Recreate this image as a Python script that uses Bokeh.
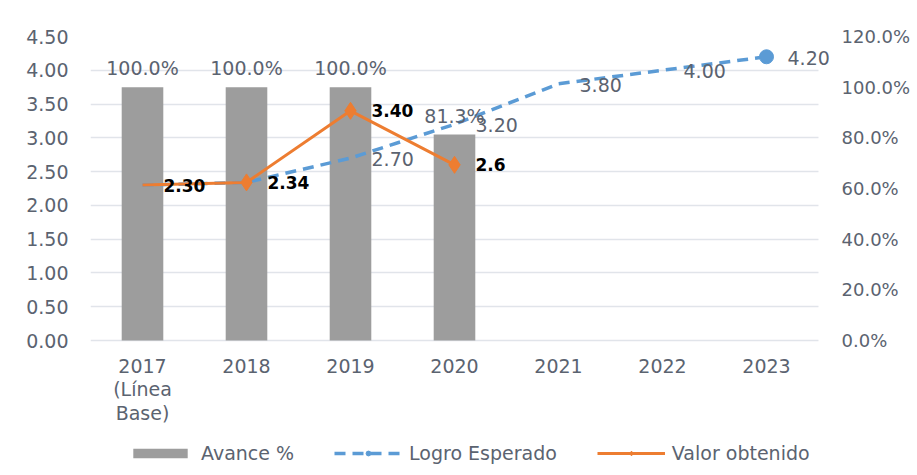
from bokeh.plotting import figure
from bokeh.models import (ColumnDataSource, LinearAxis, Range1d, NumeralTickFormatter,
                          FixedTicker, LabelSet, Legend, LegendItem, Grid)
from bokeh.core.properties import value
from bokeh.embed import file_html
from bokeh.resources import INLINE

categories = ["2017\n(Línea\nBase)", "2018", "2019", "2020", "2021", "2022", "2023"]
avance = [1.0, 1.0, 1.0, 0.813]
avance_labels = ["100.0%", "100.0%", "100.0%", "81.3%"]
logro = [2.30, 2.34, 2.70, 3.20, 3.80, 4.00, 4.20]
logro_labels = ["", "", "2.70", "3.20", "3.80", "4.00", "4.20"]
valor = [2.30, 2.34, 3.40, 2.6]
valor_labels = ["2.30", "2.34", "3.40", "2.6"]
left_ticks = [0.0, 0.5, 1.0, 1.5, 2.0, 2.5, 3.0, 3.5, 4.0, 4.5]
right_ticks = [0.0, 0.2, 0.4, 0.6, 0.8, 1.0, 1.2]

FONT = "DejaVu Sans"
TXT = "#5b6370"
BLUE = "#5B9BD5"
ORANGE = "#ED7D31"

xs = list(range(len(categories)))
n = len(categories)
extra = 14 / 104.0          # room so the last data label is not clipped
Y_TOP = 4.5
PCT_TOP = 1.2
PX_PER_UNIT = 304 / Y_TOP    # plot area 304 px tall for 0..4.5
BOTTOM_PX = 130              # space below zero for category labels and legend
y_lo = -BOTTOM_PX / PX_PER_UNIT

p = figure(frame_width=742, frame_height=304 + BOTTOM_PX,
           x_range=Range1d(-0.5, n - 0.5 + extra), y_range=Range1d(y_lo, Y_TOP),
           output_backend="svg", toolbar_location=None, x_axis_location=None,
           min_border_left=90, min_border_right=80, min_border_top=36, min_border_bottom=0)
p.extra_y_ranges = {"pct": Range1d(y_lo * PCT_TOP / Y_TOP, PCT_TOP)}
p.outline_line_color = None
p.background_fill_color = "white"

# axes
p.yaxis.ticker = FixedTicker(ticks=left_ticks)
p.yaxis.formatter = NumeralTickFormatter(format="0.00")
ra = LinearAxis(y_range_name="pct", ticker=FixedTicker(ticks=right_ticks),
                formatter=NumeralTickFormatter(format="0.0%"))
p.add_layout(ra, "right")
for ax in [p.yaxis[0], ra]:
    ax.axis_line_color = None
    ax.major_tick_line_color = None
    ax.minor_tick_line_color = None
    ax.major_label_text_font = FONT
    ax.major_label_text_color = TXT
p.yaxis[0].major_label_text_font_size = "19px"
ra.major_label_text_font_size = "18px"
p.yaxis[0].major_label_standoff = 16
ra.major_label_standoff = 3
p.xgrid.grid_line_color = None
yg = p.ygrid[0]
yg.grid_line_color = "#e1e4ea"
yg.grid_line_width = 1.5
if "cross_bounds" in Grid.properties():
    yg.cross_bounds = (-0.5, n - 0.5)

# category labels (x axis), one centred text per line
cx, cl, co = [], [], []
for i, c in zip(xs, categories):
    for j, line in enumerate(c.split("\n")):
        cx.append(i)
        cl.append(line)
        co.append(-(25 + 23.5 * j))
csrc = ColumnDataSource(dict(x=cx, y=[0] * len(cx), lab=cl, off=co))
p.add_layout(LabelSet(x="x", y="y", text="lab", source=csrc, y_offset="off",
                      text_align="center", text_baseline="middle",
                      text_font=value(FONT), text_font_size="19px", text_color=TXT))

# bars
bsrc = ColumnDataSource(dict(x=xs[:len(avance)], top=avance, lab=avance_labels))
bars = p.vbar(x="x", top="top", width=0.4, source=bsrc, y_range_name="pct",
              fill_color="#9d9d9d", line_color=None)
p.add_layout(LabelSet(x="x", y="top", text="lab", source=bsrc, y_range_name="pct",
                      y_offset=19, text_align="center", text_baseline="middle",
                      text_font=value(FONT), text_font_size="19px", text_color=TXT))

# Logro esperado
lsrc = ColumnDataSource(dict(x=xs, y=logro, lab=logro_labels))
lline = p.line(x="x", y="y", source=lsrc, line_color=BLUE, line_width=3.5, line_dash="11 7")
ldot = p.scatter(x=[xs[-1]], y=[logro[-1]], marker="circle", size=14,
                 fill_color=BLUE, line_color=BLUE)
p.add_layout(LabelSet(x="x", y="y", text="lab", source=lsrc, x_offset=21, y_offset=-1,
                      text_align="left", text_baseline="middle",
                      text_font=value(FONT), text_font_size="19px", text_color=TXT))

# Valor obtenido
vsrc = ColumnDataSource(dict(x=xs[:len(valor)], y=valor, lab=valor_labels))
vline = p.line(x="x", y="y", source=vsrc, line_color=ORANGE, line_width=3)
vdot = p.scatter(x=xs[1:len(valor)], y=valor[1:], marker="diamond", size=17,
                 fill_color=ORANGE, line_color=ORANGE)
p.add_layout(LabelSet(x="x", y="y", text="lab", source=vsrc, x_offset=21,
                      text_align="left", text_baseline="middle",
                      text_font=value(FONT), text_font_size="17px", text_font_style="bold",
                      text_color="black"))

legend = Legend(items=[LegendItem(label="Avance %", renderers=[bars]),
                       LegendItem(label="Logro Esperado", renderers=[lline, ldot]),
                       LegendItem(label="Valor obtenido", renderers=[vline, vdot])],
                orientation="horizontal", location=(36, 6),
                glyph_width=68, glyph_height=12, label_standoff=7, spacing=40,
                padding=0, margin=0, border_line_color=None, background_fill_alpha=0,
                label_text_font=FONT, label_text_font_size="19px", label_text_color=TXT)
p.add_layout(legend)

open("out.html", "w").write(file_html(p, INLINE))
